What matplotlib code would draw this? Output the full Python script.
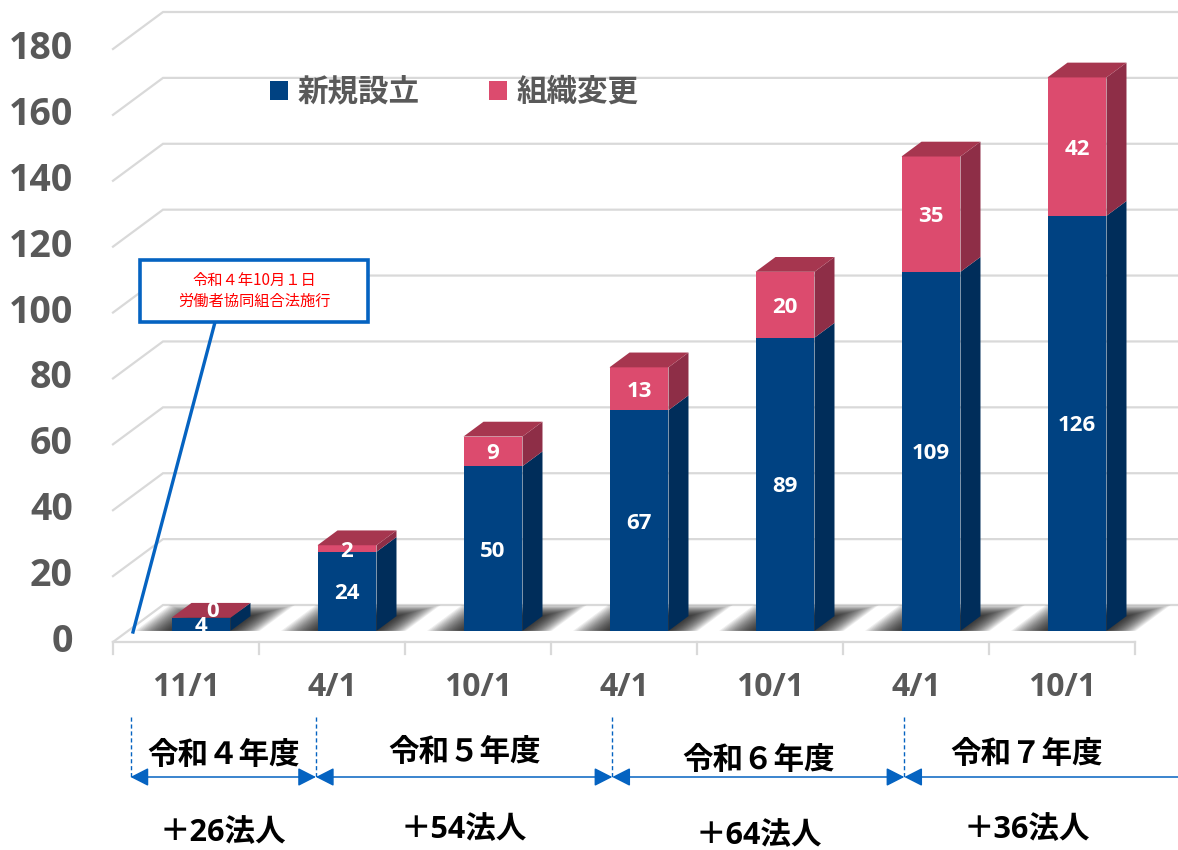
import matplotlib
matplotlib.use("Agg")
import matplotlib.pyplot as plt
from matplotlib.patches import Polygon, Rectangle

plt.rcParams['font.family'] = ['Open Sans', 'Noto Sans CJK JP', 'DejaVu Sans']

# datos
categorias = ['11/1', '4/1', '10/1', '4/1', '10/1', '4/1', '10/1']
nuevos = [4, 24, 50, 67, 89, 109, 126]        # 新規設立
cambios = [0, 2, 9, 13, 20, 35, 42]           # 組織変更
series = ['新規設立', '組織変更']
y_ticks = [0, 20, 40, 60, 80, 100, 120, 140, 160, 180]
anios = ['令和４年度', '令和５年度', '令和６年度', '令和７年度']
aumentos = ['＋26法人', '＋54法人', '＋64法人', '＋36法人']
nota = '令和４年10月１日\n労働者協同組合法施行'

# colores
AZUL, AZUL_LADO = '#004282', '#002D5A'
ROSA, ROSA_LADO, ROSA_TOP = '#DC4B6E', '#8E2E47', '#A6364F'
GRIS = '#D9D9D9'
TEXTO = '#595959'
LINEA = '#0563C1'

# geometria (pixeles de la imagen -> unidades de datos)
W_PX, H_PX = 1178, 850
X0_PX, CAT_PX = 113, 146
Y0_PX, UNIT_PX = 642, 593 / 180
DX, DY = 50 / CAT_PX, 37 / UNIT_PX   # profundidad del "piso"
Z0, PROF, ANCHO = 0.3, 0.4, 0.404    # posicion de las barras en profundidad


def py(p):
    # fila de pixel -> valor en el eje y
    return (Y0_PX - p) / UNIT_PX


fig = plt.figure(figsize=(W_PX / 100, H_PX / 100), dpi=100)
ax = fig.add_axes([0, 0, 1, 1])
ax.set_xlim(-X0_PX / CAT_PX, (W_PX - X0_PX) / CAT_PX)
ax.set_ylim(py(H_PX), py(0))
ax.axis('off')

n = len(categorias)
xmax = ax.get_xlim()[1] + 1

# rejilla (pared izquierda + pared de fondo)
for v in y_ticks:
    ax.plot([0, DX, xmax], [v, v + DY, v + DY], color=GRIS, lw=1.6, zorder=1,
            solid_joinstyle='miter')
    ax.text(-0.274, v, str(v), ha='right', va='center', fontsize=27,
            fontweight='bold', color=TEXTO)

# borde frontal del piso y marcas
ax.plot([0, n], [0, 0], color=GRIS, lw=1.6, zorder=1)
for i in range(n + 1):
    ax.plot([i, i], [0, -12 / UNIT_PX], color=GRIS, lw=1.6, zorder=1)

# sombras difusas sobre el piso
for i in range(n):
    xl = i + 0.5 - ANCHO / 2
    xr = i + 0.5 + ANCHO / 2
    capas = 20
    for k in range(capas):
        f = 1 - k / capas
        pl = 0.25 * f
        pr = 0.2 * f
        z1 = Z0 + PROF + 0.3 * f
        pts = [(xl - pl + Z0 * DX, Z0 * DY), (xr + pr + Z0 * DX, Z0 * DY),
               (xr + pr + z1 * DX, z1 * DY), (xl - pl + z1 * DX, z1 * DY)]
        ax.add_patch(Polygon(pts, closed=True, facecolor='black', edgecolor='none',
                             alpha=0.065, zorder=2))

# barras (cara frontal)
xc = [i + 0.5 + Z0 * DX for i in range(n)]
b1 = ax.bar(xc, nuevos, width=ANCHO, bottom=Z0 * DY, color=AZUL, zorder=3, label=series[0])
b2 = ax.bar(xc, cambios, width=ANCHO, bottom=[v + Z0 * DY for v in nuevos], color=ROSA,
            zorder=3, label=series[1])

# caras laterales y superiores
for i in range(n):
    xl = i + 0.5 - ANCHO / 2 + Z0 * DX
    xr = xl + ANCHO
    segs = [(0, nuevos[i], AZUL_LADO), (nuevos[i], nuevos[i] + cambios[i], ROSA_LADO)]
    for y0, y1, c in segs:
        if y1 > y0:
            pts = [(xr, y0 + Z0 * DY), (xr + PROF * DX, y0 + (Z0 + PROF) * DY),
                   (xr + PROF * DX, y1 + (Z0 + PROF) * DY), (xr, y1 + Z0 * DY)]
            ax.add_patch(Polygon(pts, closed=True, facecolor=c, edgecolor='none', zorder=3))
    top = nuevos[i] + cambios[i]
    pts = [(xl, top + Z0 * DY), (xr, top + Z0 * DY),
           (xr + PROF * DX, top + (Z0 + PROF) * DY), (xl + PROF * DX, top + (Z0 + PROF) * DY)]
    ax.add_patch(Polygon(pts, closed=True, facecolor=ROSA_TOP, edgecolor='none', zorder=3))

    # etiquetas
    ax.text(xc[i], nuevos[i] / 2 + Z0 * DY, str(nuevos[i]), ha='center', va='center_baseline',
            fontsize=16, fontweight='bold', color='white', zorder=5)
    if cambios[i] > 0:
        ax.text(xc[i], nuevos[i] + cambios[i] / 2 + Z0 * DY, str(cambios[i]), ha='center',
                va='center_baseline', fontsize=16, fontweight='bold', color='white', zorder=5)
    else:
        zm = Z0 + PROF * 0.6
        ax.text(i + 0.5 + zm * DX, top + zm * DY, str(cambios[i]), ha='center',
                va='center_baseline', fontsize=16, fontweight='bold', color='white', zorder=5)

    # eje x
    ax.text(i + 0.5, py(688), categorias[i], ha='center', va='center', fontsize=23,
            fontweight='bold', color=TEXTO)

# leyenda
ax.legend(handles=[b1, b2], loc='center left',
          bbox_to_anchor=(270 / W_PX, 1 - 92 / H_PX), bbox_transform=fig.transFigure,
          ncol=2, frameon=False, handlelength=0.59, handleheight=0.59,
          handletextpad=0.3, columnspacing=2.3, borderpad=0, borderaxespad=0,
          prop={'family': ['Noto Sans CJK JP'], 'weight': 'bold', 'size': 22},
          labelcolor=TEXTO)

# nota: fecha de entrada en vigor
caja = (0.185, py(322), 1.747 - 0.185, py(260) - py(322))
ax.plot([0.699, 0.137], [py(322), py(632)], color=LINEA, lw=2.4, zorder=6)
ax.add_patch(Rectangle(caja[:2], caja[2], caja[3], facecolor='white', edgecolor=LINEA,
                       lw=2.6, zorder=7))
ax.text(caja[0] + caja[2] / 2, caja[1] + caja[3] / 2, nota, ha='center', va='center',
        fontsize=11, color='#FF0000', family=['Noto Sans CJK JP'], linespacing=1.25,
        zorder=8)

# periodos fiscales
limites = [0.12, 1.39, 3.42, 5.42, xmax]
y_flecha = py(777)
y_rayas = py(717)
y_anio = [py(755), py(752), py(760), py(754)]
y_aum = [py(833), py(830), py(836), py(830)]
for j in range(len(anios)):
    a, b = limites[j], limites[j + 1]
    ax.plot([a, a], [y_rayas, y_flecha], color=LINEA, lw=1, ls=(0, (3, 2)))
    estilo = '<|-|>' if j < len(anios) - 1 else '<|-'
    ax.annotate('', xy=(b, y_flecha), xytext=(a, y_flecha), annotation_clip=False,
                arrowprops=dict(arrowstyle=estilo + ',head_length=0.55,head_width=0.28',
                                color=LINEA, lw=1.1, mutation_scale=20,
                                shrinkA=0, shrinkB=0))
    centro = (a + min(b, 7.1)) / 2
    ax.text(centro, y_anio[j], anios[j], ha='center', va='center', fontsize=22,
            fontweight='bold', color='black', family=['Noto Sans CJK JP'])
    ax.text(centro, y_aum[j], aumentos[j], ha='center', va='center', fontsize=22,
            fontweight='bold', color='black', family=['Open Sans', 'Noto Sans CJK JP'])

fig.savefig('out.png', dpi=100)
plt.close(fig)
